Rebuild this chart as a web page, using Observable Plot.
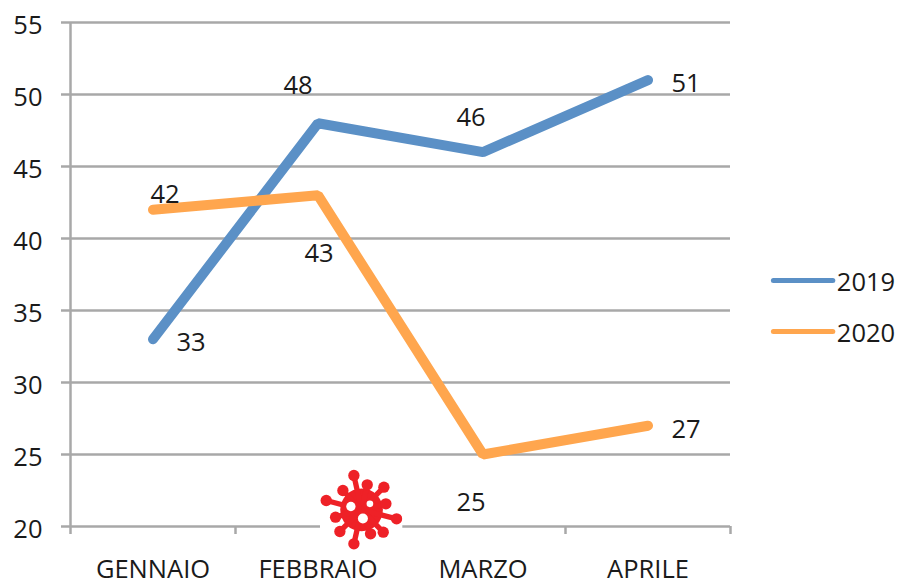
<!DOCTYPE html>
<html><head><meta charset="utf-8">
<script src="https://cdn.jsdelivr.net/npm/d3@7"></script>
<script src="https://cdn.jsdelivr.net/npm/@observablehq/plot@0.6"></script>
<style>html,body{margin:0;padding:0;background:#fff}svg{display:block}</style>
</head><body><div id="chart"></div>
<script>
const months = ["GENNAIO","FEBBRAIO","MARZO","APRILE"];
const slots = [0.5,1.5,2.5,3.5];
const edges = [0,1,2,3,4];
const v2019 = [33,48,46,51];
const v2020 = [42,43,25,27];
const yTicks = [20,25,30,35,40,45,50,55];
const legendSpan = [4.26,4.62];
const legendLevels = {"2019":37.08,"2020":33.54};
const blue = "#5b90c6", orange = "#ffa64e", gray = "#a8a8a8", ink = "#1a1a1a";
const font = "'Open Sans', sans-serif";
const fs = 25.5;

const labelOffsets2019 = [[38,4],[-20,-37],[-12,-34],[38,4]];
const labelOffsets2020 = [[12,-15],[1,59],[-12,48],[38,4]];

const knobs = [[220,75],[260,103],[310,110],[187,120],[137,150],[316,160],[348,205],[165,200],[178,243],[270,250],[308,245],[220,280]];
const holes = [[211,168,14],[268,160,10],[247,204,15]];
const virusSvg = `<svg xmlns="http://www.w3.org/2000/svg" viewBox="117 50 249 255"><rect x="117" y="50" width="249" height="255" fill="#fff"/><g fill="#ee2127" stroke="#ee2127">` +
  `<circle cx="243" cy="178" r="64" stroke="none"/>` +
  knobs.map(([a,b])=>`<line x1="243" y1="178" x2="${a}" y2="${b}" stroke-width="16"/><circle cx="${a}" cy="${b}" r="17" stroke="none"/>`).join("") +
  `</g><g fill="#fff">` + holes.map(([a,b,r])=>`<circle cx="${a}" cy="${b}" r="${r}"/>`).join("") + `</g></svg>`;
const virusHref = "data:image/svg+xml;utf8," + encodeURIComponent(virusSvg);

const rows = (vals)=>vals.map((v,i)=>({x:slots[i],y:v}));
const pointLabels = (vals,offs)=>vals.map((v,i)=>Plot.text([{x:slots[i],y:v}],{
  x:"x",y:"y",text:d=>String(d.y),dx:offs[i][0],dy:offs[i][1],fontSize:fs,fill:ink,fontFamily:font}));
const legend = (name,color)=>[
  Plot.line(legendSpan.map(x=>({x,y:legendLevels[name]})),{x:"x",y:"y",stroke:color,strokeWidth:5,strokeLinecap:"round"}),
  Plot.text([{x:legendSpan[1],y:legendLevels[name]}],{x:"x",y:"y",text:()=>name,dx:4,dy:2,textAnchor:"start",fontSize:fs,fill:ink,fontFamily:font})
];

const plot = Plot.plot({
  width:899,height:585,marginTop:22,marginBottom:59,marginLeft:70,marginRight:169,
  style:{fontFamily:font,background:"#fff"},
  x:{type:"linear",domain:[0,4],label:null},
  y:{domain:[20,55],label:null},
  marks:[
    Plot.ruleY(yTicks,{stroke:gray,strokeWidth:2.5,x1:0,x2:4,strokeOpacity:1}),
    Plot.axisY({ticks:yTicks,tickSize:9,tickFormat:()=>"",stroke:gray,strokeWidth:2.5,label:null}),
    Plot.text(yTicks,{x:0,y:d=>d,text:d=>String(d),dx:-28,dy:3,textAnchor:"end",fontSize:fs,fill:ink,fontFamily:font}),
    Plot.ruleX([0],{y1:20,y2:55,stroke:gray,strokeWidth:2.5}),
    Plot.axisX({ticks:edges,tickSize:8,tickFormat:()=>"",stroke:gray,strokeWidth:2.5,label:null}),
    Plot.text(slots,{x:d=>d,y:20,text:(d,i)=>months[i],dy:43,fontSize:fs,fill:ink,fontFamily:font}),
    Plot.line(rows(v2019),{x:"x",y:"y",stroke:blue,strokeWidth:10,strokeLinecap:"round",strokeLinejoin:"miter"}),
    Plot.line(rows(v2020),{x:"x",y:"y",stroke:orange,strokeWidth:10,strokeLinecap:"round",strokeLinejoin:"miter"}),
    ...pointLabels(v2019,labelOffsets2019),
    ...pointLabels(v2020,labelOffsets2020),
    ...legend("2019",blue),
    ...legend("2020",orange),
    Plot.image([{x:1.761,y:21.17}],{x:"x",y:"y",src:()=>virusHref,width:83,height:85})
  ]
});
document.getElementById("chart").append(plot);
</script></body></html>
